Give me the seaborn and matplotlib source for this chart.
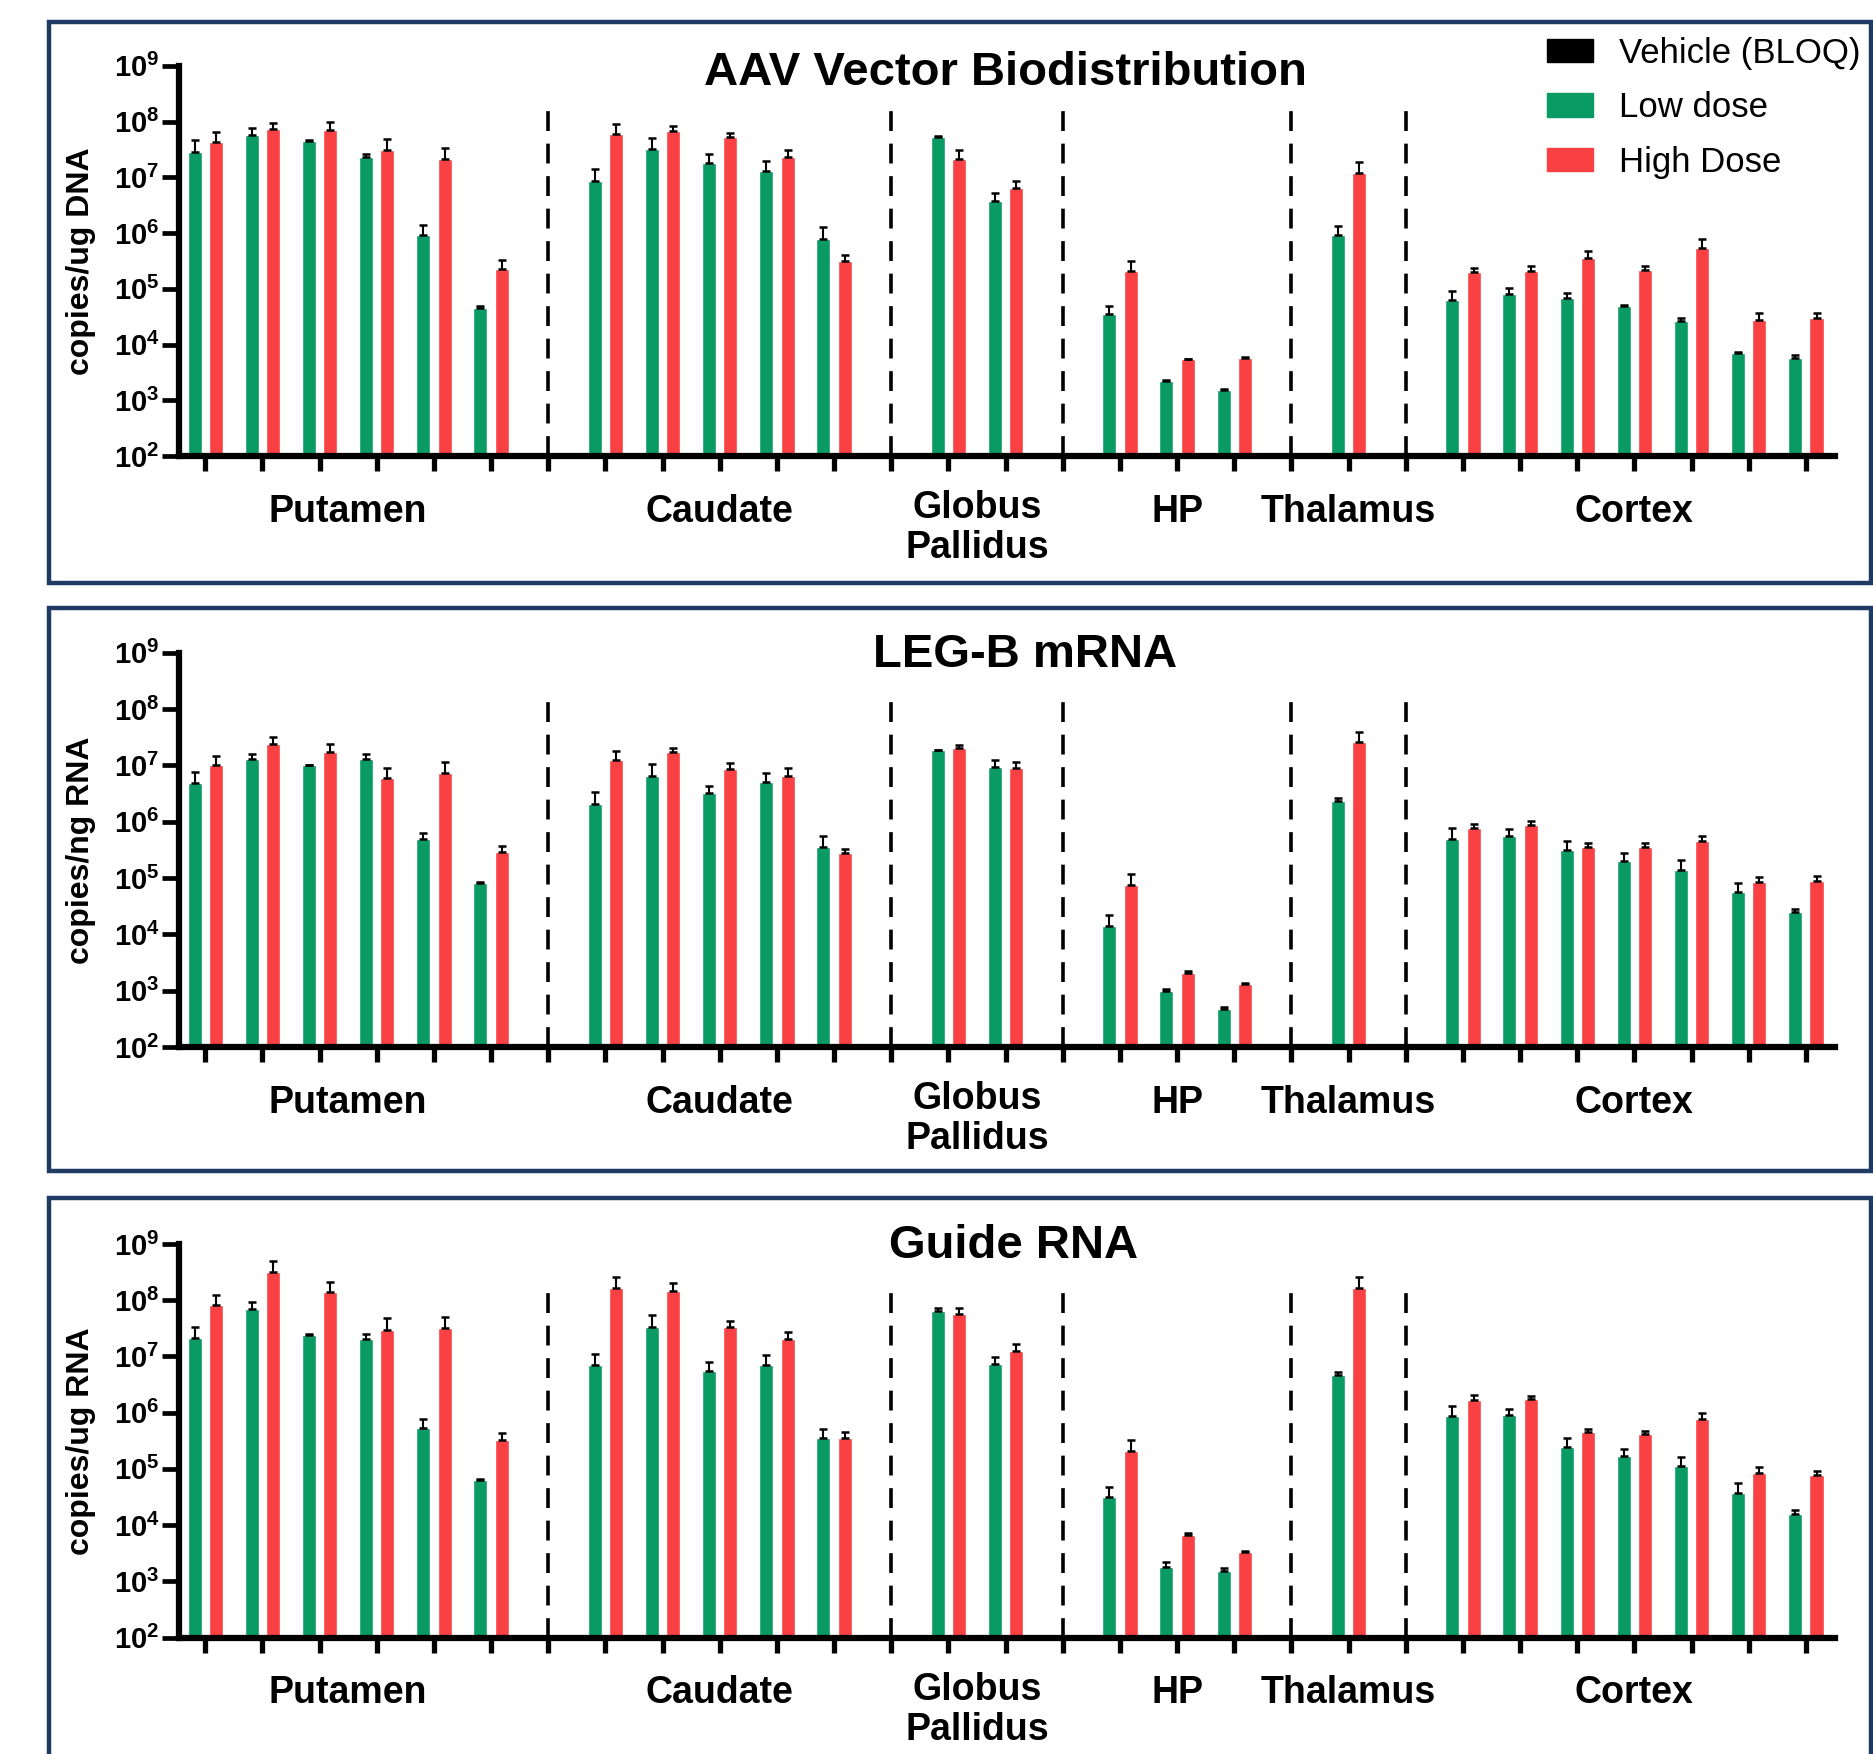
import pandas as pd
import matplotlib
matplotlib.use("Agg")
import matplotlib.pyplot as plt
import seaborn as sns
from matplotlib.patches import Patch, Rectangle
from matplotlib.ticker import NullLocator

# -----------------------------
# Data
# -----------------------------
regions = ['Putamen', 'Caudate', 'Globus\nPallidus', 'HP', 'Thalamus', 'Cortex']
region_codes = ['PUT', 'CAU', 'GP', 'HP', 'THAL', 'CTX']
n_sites = [6, 5, 2, 3, 1, 7]

dose_order = ['Low dose', 'High Dose']
legend_labels = ['Vehicle (BLOQ)', 'Low dose', 'High Dose']

ytick_values = [1e2, 1e3, 1e4, 1e5, 1e6, 1e7, 1e8, 1e9]
ytick_labels = [r'$\mathbf{10^{2}}$', r'$\mathbf{10^{3}}$', r'$\mathbf{10^{4}}$',
                r'$\mathbf{10^{5}}$', r'$\mathbf{10^{6}}$', r'$\mathbf{10^{7}}$',
                r'$\mathbf{10^{8}}$', r'$\mathbf{10^{9}}$']

# AAV vector biodistribution (copies/ug DNA)
aav_low = [2.8e7, 5.8e7, 4.4e7, 2.3e7, 9.3e5, 4.6e4,
           8.5e6, 3.2e7, 1.8e7, 1.3e7, 7.9e5,
           5.2e7, 3.8e6,
           3.6e4, 2.2e3, 1.55e3,
           9.3e5,
           6.3e4, 8.1e4, 6.8e4, 4.9e4, 2.6e4, 7.1e3, 5.8e3]
aav_low_sd = [1.8e7, 2.0e7, 3e6, 3e6, 4.5e5, 3e3,
              5.5e6, 1.8e7, 8e6, 6.5e6, 4.7e5,
              3e6, 1.4e6,
              1.3e4, 1e2, 50,
              4.2e5,
              2.8e4, 2.4e4, 1.5e4, 2e3, 4e3, 1e2, 7e2]
aav_high = [4.3e7, 7.2e7, 7.1e7, 3.1e7, 2.1e7, 2.3e5,
            5.9e7, 6.8e7, 5.2e7, 2.3e7, 3.2e5,
            2.1e7, 6.3e6,
            2.1e5, 5.4e3, 5.8e3,
            1.2e7,
            2.0e5, 2.1e5, 3.6e5, 2.2e5, 5.4e5, 2.8e4, 2.95e4]
aav_high_sd = [2.3e7, 2.1e7, 2.7e7, 1.8e7, 1.2e7, 1.0e5,
               3.0e7, 1.5e7, 1.1e7, 8e6, 9e4,
               1.0e7, 2.2e6,
               1.1e5, 2e2, 2e2,
               6.6e6,
               4e4, 5e4, 1.2e5, 4e4, 2.4e5, 9e3, 7.5e3]

# LEG-B mRNA (copies/ng RNA)
legb_low = [4.9e6, 1.29e7, 1.0e7, 1.29e7, 5.0e5, 8.3e4,
            2.1e6, 6.6e6, 3.2e6, 5.0e6, 3.5e5,
            1.86e7, 9.5e6,
            1.4e4, 1.0e3, 4.7e2,
            2.3e6,
            5.0e5, 5.6e5, 3.1e5, 2.0e5, 1.4e5, 5.6e4, 2.45e4]
legb_low_sd = [2.9e6, 3.3e6, 2e5, 3.3e6, 1.3e5, 2e3,
               1.3e6, 3.9e6, 1.1e6, 2.2e6, 2.0e5,
               4e5, 3.1e6,
               8e3, 50, 50,
               3e5,
               2.8e5, 1.8e5, 1.4e5, 7.5e4, 7e4, 2.7e4, 3.5e3]
legb_high = [1.0e7, 2.4e7, 1.7e7, 6.0e6, 7.2e6, 2.9e5,
             1.23e7, 1.7e7, 8.5e6, 6.6e6, 2.75e5,
             2.0e7, 8.9e6,
             7.6e4, 2.1e3, 1.3e3,
             2.6e7,
             7.9e5, 8.7e5, 3.6e5, 3.5e5, 4.5e5, 8.5e4, 8.7e4]
legb_high_sd = [4.8e6, 8e6, 7e6, 3.1e6, 4.5e6, 8e4,
                5.9e6, 3e6, 2.5e6, 2.5e6, 5.5e4,
                3e6, 2.8e6,
                4.1e4, 1.4e2, 80,
                1.4e7,
                1.2e5, 1.5e5, 6e4, 7e4, 1.1e5, 2e4, 2e4]

# Guide RNA (copies/ug RNA)
guide_low = [2.1e7, 6.9e7, 2.45e7, 2.0e7, 5.4e5, 6.3e4,
             6.9e6, 3.4e7, 5.6e6, 7.1e6, 3.5e5,
             6.3e7, 7.4e6,
             3.2e4, 1.8e3, 1.5e3,
             4.7e6,
             8.7e5, 8.9e5, 2.45e5, 1.7e5, 1.12e5, 3.7e4, 1.55e4]
guide_low_sd = [1.3e7, 2.2e7, 5e5, 5e6, 2.4e5, 2e3,
                4.1e6, 2.0e7, 2.3e6, 3.4e6, 1.7e5,
                1.1e7, 2.4e6,
                1.5e4, 4e2, 2.4e2,
                5e5,
                4.2e5, 2.6e5, 1.05e5, 6e4, 4.8e4, 1.9e4, 3.1e3]
guide_high = [8.1e7, 3.2e8, 1.38e8, 3.0e7, 3.2e7, 3.2e5,
              1.62e8, 1.48e8, 3.4e7, 2.0e7, 3.6e5,
              5.6e7, 1.23e7,
              2.1e5, 6.6e3, 3.3e3,
              1.66e8,
              1.66e6, 1.74e6, 4.5e5, 4.2e5, 7.6e5, 8.3e4, 7.8e4]
guide_high_sd = [4.2e7, 1.8e8, 7.2e7, 1.9e7, 1.9e7, 1.1e5,
                 9.8e7, 5.2e7, 9e6, 7.5e6, 9e4,
                 1.8e7, 4.3e6,
                 1.1e5, 6e2, 2e2,
                 9.4e7,
                 3.8e5, 2.1e5, 6e4, 5e4, 2.2e5, 2.4e4, 1.3e4]

panels = [
    ("AAV Vector Biodistribution", "copies/ug DNA", aav_low, aav_low_sd, aav_high, aav_high_sd),
    ("LEG-B mRNA", "copies/ng RNA", legb_low, legb_low_sd, legb_high, legb_high_sd),
    ("Guide RNA", "copies/ug RNA", guide_low, guide_low_sd, guide_high, guide_high_sd),
]

# -----------------------------
# Style
# -----------------------------
sns.set_style("ticks", {"text.color": "black", "axes.labelcolor": "black",
                        "xtick.color": "black", "ytick.color": "black",
                        "axes.edgecolor": "black"})
plt.rcParams['font.family'] = ['Liberation Sans', 'DejaVu Sans']
plt.rcParams['mathtext.fontset'] = 'custom'
plt.rcParams['mathtext.rm'] = 'Liberation Sans'
plt.rcParams['mathtext.bf'] = 'Liberation Sans:bold'

GREEN = '#0A9B64'
RED = '#F94144'
NAVY = '#1F3A63'
palette = {'Low dose': GREEN, 'High Dose': RED}

# category order: sites with an empty slot between regions
order = []
sites = []
separators = []
for k, (code, n) in enumerate(zip(region_codes, n_sites)):
    for i in range(n):
        sites.append(f"{code}{i + 1}")
        order.append(f"{code}{i + 1}")
    if k < len(regions) - 1:
        separators.append(f"sep{k}")
        order.append(f"sep{k}")
sep_pos = [order.index(s) for s in separators]
region_centers = []
for code, n in zip(region_codes, n_sites):
    idx = [order.index(f"{code}{i + 1}") for i in range(n)]
    region_centers.append(sum(idx) / len(idx))

fig = plt.figure(figsize=(18.74, 17.54), dpi=100)

# axes boxes [left, bottom, width, height], title position (axes frac)
axes_rects = [[0.0955, 0.7400, 0.8837, 0.2225],
              [0.0955, 0.4031, 0.8837, 0.2247],
              [0.0955, 0.0664, 0.8837, 0.2244]]
title_xy = [(0.499, 0.982), (0.511, 0.995), (0.504, 0.995)]
frames = [(0.0261, 0.6676, 0.9723, 0.3198),
          (0.0261, 0.3324, 0.9723, 0.3210),
          (0.0261, -0.0260, 0.9723, 0.3430)]

for p, (title, ylabel, low, low_sd, high, high_sd) in enumerate(panels):
    df = pd.DataFrame({
        'site': sites + sites,
        'dose': ['Low dose'] * len(sites) + ['High Dose'] * len(sites),
        'value': low + high,
        'sd': low_sd + high_sd,
    })
    lookup = {(r.site, r.dose): (r.value, r.sd) for r in df.itertuples()}

    ax = fig.add_axes(axes_rects[p])
    sns.barplot(data=df, x='site', y='value', hue='dose', order=order,
                hue_order=dose_order, palette=palette, errorbar=None,
                width=0.745, gap=0.34, saturation=1, legend=False, ax=ax)
    ax.set_yscale('log')

    # upper error bars (SD)
    for cont, dose in zip(ax.containers, dose_order):
        for bar in cont:
            xc = bar.get_x() + bar.get_width() / 2
            site = order[int(round(xc))]
            mean, sd = lookup[(site, dose)]
            ax.errorbar(xc, mean, yerr=[[0], [sd]], fmt='none', ecolor='black',
                        elinewidth=1.5, capsize=2.6, capthick=1.8, zorder=3)

    # dashed region separators
    ax.vlines(sep_pos, 1e2, 2.1e8, colors='black', linewidth=2.6,
              linestyles=(0, (5.5, 3.5)), zorder=1)

    ax.set_ylim(1e2, 1e9)
    ax.set_xlim(-0.46, len(order) - 1 + 0.51)
    ax.set_yticks(ytick_values)
    ax.set_yticklabels(ytick_labels, fontsize=21)
    ax.yaxis.set_minor_locator(NullLocator())
    ax.set_xticks(range(len(order)))
    ax.set_xticklabels([])
    ax.set_xlabel('')
    ax.tick_params(axis='y', length=12, width=3.4, pad=2)
    ax.tick_params(axis='x', length=11, width=3.8)
    for side in ['top', 'right']:
        ax.spines[side].set_visible(False)
    for side in ['left', 'bottom']:
        ax.spines[side].set_linewidth(4.5)
    ax.set_facecolor('none')

    ax.set_ylabel(ylabel, fontsize=23, fontweight='bold')
    ax.yaxis.set_label_coords(-0.050, 0.5)

    ax.text(title_xy[p][0], title_xy[p][1], title, transform=ax.transAxes,
            ha='center', va='center', fontsize=34, fontweight='bold')

    for name, xc in zip(regions, region_centers):
        off = -52 if '\n' in name else -40
        ax.annotate(name, xy=(xc, 0), xycoords=('data', 'axes fraction'),
                    xytext=(0, off), textcoords='offset points',
                    ha='center', va='center', fontsize=27, fontweight='bold',
                    linespacing=1.15, annotation_clip=False)

    if p == 0:
        handles = [Patch(color='black'), Patch(color=GREEN), Patch(color=RED)]
        ax.legend(handles, legend_labels, loc='upper left',
                  bbox_to_anchor=(1547 / 1874, 0.9790),
                  bbox_transform=fig.transFigure, frameon=False, fontsize=25,
                  handlelength=1.33, handleheight=0.66, labelspacing=0.62,
                  handletextpad=0.75, borderpad=0, borderaxespad=0)

# panel frames
for x0, y0, w, h in frames:
    fig.add_artist(Rectangle((x0, y0), w, h, transform=fig.transFigure,
                             fill=False, edgecolor=NAVY, linewidth=3.2))

plt.savefig("out.png", dpi=100)
